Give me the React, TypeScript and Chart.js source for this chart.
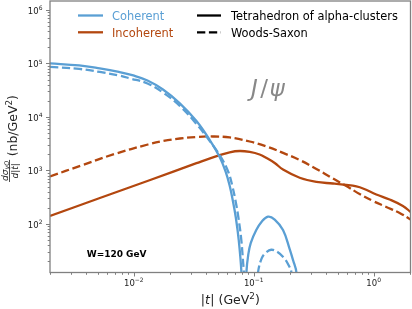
import React, { useEffect, useRef } from "react";
import { Chart, registerables } from "chart.js";
Chart.register(...registerables);

const FONT = '"DejaVu Sans", "Liberation Sans", sans-serif';
const BLUE = "#5a9fd4";
const ORANGE = "#b3470f";
const SPINE = "#808080";
const TEXT = "#222222";

// ---- data (|t| in GeV^2, dsigma/d|t| in nb/GeV^2) ----
const tCohTetra = [0.002, 0.0035, 0.0052, 0.0075, 0.0099, 0.013, 0.0175, 0.0242, 0.0333, 0.043, 0.052, 0.0584, 0.0631, 0.0668, 0.0708, 0.075, 0.079, 0.083, 0.0869, 0.09, 0.0944, 0.105, 0.116, 0.1315, 0.1496, 0.1755, 0.1995, 0.213, 0.227, 0.24];
const sCohTetra = [1.0e5, 9.18e4, 8.07e4, 6.94e4, 5.97e4, 4.81e4, 3.27e4, 1.8e4, 8.4e3, 3.7e3, 1.78e3, 938, 513, 281, 135, 50, 12.5, 1, 12.5, 26.4, 44, 77, 109, 137, 121, 77, 34, 21, 12.4, 1];

const tCohWS = [0.002, 0.0035, 0.0052, 0.0075, 0.0093, 0.013, 0.0175, 0.0242, 0.0333, 0.043, 0.0531, 0.0614, 0.0663, 0.0703, 0.0744, 0.0788, 0.083, 0.0946, 0.1086, 0.1167, 0.126, 0.14, 0.158, 0.178, 0.194, 0.206, 0.215];
const sCohWS = [8.6e4, 7.9e4, 6.94e4, 5.97e4, 5.25e4, 4.23e4, 2.87e4, 1.61e4, 7.4e3, 3.56e3, 1.79e3, 938, 513, 281, 135, 50, 12.5, 1, 12.5, 23, 29, 33, 30, 23.5, 17.5, 12.4, 1];

const tIncTetra = [0.002, 0.00521, 0.0137, 0.0333, 0.0505, 0.063, 0.0764, 0.0926, 0.112, 0.1277, 0.1496, 0.1755, 0.2417, 0.333, 0.458, 0.592, 0.718, 0.815, 1.053, 1.36, 1.755, 2.06];
const sIncTetra = [141, 306, 664, 1370, 1900, 2190, 2310, 2220, 1990, 1710, 1380, 1040, 731, 610, 571, 536, 502, 461, 356, 287, 217, 164];

const tIncWS = [0.002, 0.00364, 0.0069, 0.0131, 0.01754, 0.0242, 0.0333, 0.0455, 0.063, 0.0926, 0.1277, 0.1755, 0.2417, 0.333, 0.458, 0.592, 0.764, 0.987, 1.276, 1.647, 2.06];
const sIncWS = [773, 1240, 2030, 3060, 3560, 3960, 4230, 4320, 4140, 3480, 2810, 2130, 1570, 1070, 708, 513, 364, 269, 208, 161, 119];

const xMajorTicks = [0.01, 0.1, 1];
const xTickExps = ["\u22122", "\u22121", "0"];
const yMajorTicks = [1e2, 1e3, 1e4, 1e5, 1e6];
const yTickExps = ["2", "3", "4", "5", "6"];
const minorMultipliers = [2, 3, 4, 5, 6, 7, 8, 9];
const decades = [1e-3, 1e-2, 1e-1, 1, 1e1, 1e2, 1e3, 1e4, 1e5, 1e6];

const X_MIN = 0.002, X_MAX = 2.03, Y_MIN = 12.4, Y_MAX = 1.47e6;
const DASH = [8.3, 3.6];
const LW = 2.3;

type Run = { text: string; font: string; dy?: number; dx?: number };

function runsWidth(ctx: CanvasRenderingContext2D, runs: Run[]) {
  let w = 0;
  for (const r of runs) { ctx.font = r.font; w += ctx.measureText(r.text).width + (r.dx || 0); }
  return w;
}
function drawRuns(ctx: CanvasRenderingContext2D, runs: Run[], x: number, y: number) {
  let cx = x;
  for (const r of runs) {
    ctx.font = r.font;
    ctx.fillText(r.text, cx, y + (r.dy || 0));
    cx += ctx.measureText(r.text).width + (r.dx || 0);
  }
  return cx;
}

const overlay = {
  id: "overlay",
  afterDatasetsDraw(chart: any) {
    const { ctx, chartArea: a, scales } = chart;
    const xs = scales.x, ys = scales.y;
    ctx.save();
    ctx.textAlign = "left";
    ctx.textBaseline = "alphabetic";

    // ticks
    ctx.strokeStyle = SPINE;
    ctx.lineWidth = 1;
    ctx.beginPath();
    for (const d of decades) {
      for (const m of [1, ...minorMultipliers]) {
        const v = m * d;
        if (v >= X_MIN && v <= X_MAX) {
          const px = Math.round(xs.getPixelForValue(v)) + 0.5;
          const len = m === 1 ? 4 : 2.3;
          ctx.moveTo(px, a.bottom);
          ctx.lineTo(px, a.bottom + len);
        }
        if (v >= Y_MIN && v <= Y_MAX) {
          const py = Math.round(ys.getPixelForValue(v)) + 0.5;
          const len = m === 1 ? 4 : 2.3;
          ctx.moveTo(a.left, py);
          ctx.lineTo(a.left - len, py);
        }
      }
    }
    ctx.stroke();

    // spines
    ctx.lineWidth = 1.3;
    ctx.strokeRect(a.left, a.top, a.right - a.left, a.bottom - a.top);

    // tick labels
    ctx.fillStyle = TEXT;
    const baseF = `8.5px ${FONT}`;
    const expF = `6px ${FONT}`;
    xMajorTicks.forEach((v, i) => {
      const runs: Run[] = [{ text: "10", font: baseF }, { text: xTickExps[i], font: expF, dy: -3.8 }];
      const w = runsWidth(ctx, runs);
      const px = xs.getPixelForValue(v);
      drawRuns(ctx, runs, px - w / 2, a.bottom + 13);
    });
    yMajorTicks.forEach((v, i) => {
      const runs: Run[] = [{ text: "10", font: baseF }, { text: yTickExps[i], font: expF, dy: -3.8 }];
      const w = runsWidth(ctx, runs);
      const py = ys.getPixelForValue(v);
      drawRuns(ctx, runs, 42.5 - w, py + 4);
    });

    // x label
    const labF = `12.5px ${FONT}`;
    const labI = `italic 12.5px ${FONT}`;
    const supF = `8.8px ${FONT}`;
    const xl: Run[] = [
      { text: "|", font: labF }, { text: "t", font: labI, dx: 0.5 }, { text: "|", font: labF },
      { text: " (GeV", font: labF }, { text: "2", font: supF, dy: -5 }, { text: ")", font: labF },
    ];
    const xw = runsWidth(ctx, xl);
    drawRuns(ctx, xl, (a.left + a.right) / 2 - xw / 2, 304);

    // y label (rotated)
    const fracF = `italic 9px ${FONT}`;
    const fracU = `9px ${FONT}`;
    const subF = `italic 6.3px ${FONT}`;
    const num: Run[] = [{ text: "d\u03c3", font: fracF }, { text: "\u03b3O", font: subF, dy: 1.8 }];
    const den: Run[] = [{ text: "d", font: fracF }, { text: "|", font: fracU }, { text: "t", font: fracF }, { text: "|", font: fracU }];
    const par: Run[] = [{ text: "(nb/GeV", font: labF }, { text: "2", font: supF, dy: -5 }, { text: ")", font: labF }];
    const nw = runsWidth(ctx, num), dw = runsWidth(ctx, den), pw = runsWidth(ctx, par);
    const fw = Math.max(nw, dw) + 2;
    const gap = 3.5;
    const total = fw + gap + pw;
    const cy = 138.5;
    ctx.save();
    ctx.translate(0, cy);
    ctx.rotate(-Math.PI / 2);
    const u0 = -total / 2;
    drawRuns(ctx, num, u0 + (fw - nw) / 2, 7.5);
    drawRuns(ctx, den, u0 + (fw - dw) / 2, 17.5);
    ctx.fillRect(u0, 9, fw, 0.8);
    drawRuns(ctx, par, u0 + fw + gap, 17);
    ctx.restore();

    // annotations
    ctx.fillStyle = "#888888";
    drawRuns(ctx, [
      { text: "J", font: `italic 23px ${FONT}`, dx: 2.5 },
      { text: "/", font: `23px ${FONT}`, dx: 1.5 },
      { text: "\u03c8", font: `italic 23px ${FONT}` },
    ], 251, 95.5);
    ctx.fillStyle = "#000000";
    ctx.font = `bold 9px ${FONT}`;
    ctx.fillText("W=120 GeV", 86.7, 257.3);

    // legend
    const legF = `11.4px ${FONT}`;
    const rows = [15.5, 32.3];
    const items = [
      { x0: 78, x1: 103, tx: 112, y: rows[0], color: BLUE, dash: [] as number[], label: "Coherent", tc: BLUE },
      { x0: 78, x1: 103, tx: 112, y: rows[1], color: ORANGE, dash: [] as number[], label: "Incoherent", tc: ORANGE },
      { x0: 197, x1: 221, tx: 231, y: rows[0], color: "#000", dash: [] as number[], label: "Tetrahedron of alpha-clusters", tc: "#000" },
      { x0: 197, x1: 221, tx: 231, y: rows[1], color: "#000", dash: DASH, label: "Woods-Saxon", tc: "#000" },
    ];
    for (const it of items) {
      ctx.strokeStyle = it.color;
      ctx.lineWidth = LW;
      ctx.setLineDash(it.dash);
      ctx.beginPath();
      ctx.moveTo(it.x0, it.y);
      ctx.lineTo(it.x1, it.y);
      ctx.stroke();
      ctx.setLineDash([]);
      ctx.fillStyle = it.tc;
      ctx.font = legF;
      ctx.fillText(it.label, it.tx, it.y + 4.2);
    }
    ctx.restore();
  },
};

function pts(t: number[], s: number[]) {
  return t.map((x, i) => ({ x, y: s[i] }));
}

export default function App() {
  const ref = useRef<HTMLCanvasElement | null>(null);
  useEffect(() => {
    document.body.style.margin = "0";
    const canvas = ref.current!;
    const mk = (label: string, t: number[], s: number[], color: string, dashed: boolean) => ({
      label,
      data: pts(t, s),
      borderColor: color,
      backgroundColor: color,
      borderWidth: LW,
      borderDash: dashed ? DASH : [],
      borderCapStyle: "butt",
      borderJoinStyle: "round",
      pointRadius: 0,
      fill: false,
      tension: 0.4,
      capBezierPoints: false,
      clip: 0,
    });
    const chart = new Chart(canvas, {
      type: "line",
      data: {
        datasets: [
          mk("Coherent, tetrahedron", tCohTetra, sCohTetra, BLUE, false),
          mk("Coherent, Woods-Saxon", tCohWS, sCohWS, BLUE, true),
          mk("Incoherent, tetrahedron", tIncTetra, sIncTetra, ORANGE, false),
          mk("Incoherent, Woods-Saxon", tIncWS, sIncWS, ORANGE, true),
        ] as any,
      },
      options: {
        animation: false,
        responsive: false,
        maintainAspectRatio: false,
        devicePixelRatio: 1,
        elements: { line: { capBezierPoints: false } },
        layout: { padding: { top: 1, right: 1.5, left: 0, bottom: 0 } },
        plugins: { legend: { display: false }, tooltip: { enabled: false } },
        scales: {
          x: {
            type: "logarithmic",
            min: X_MIN,
            max: X_MAX,
            grid: { display: false },
            border: { display: false },
            ticks: { display: false },
            afterFit: (s: any) => { s.height = 36.5; },
          },
          y: {
            type: "logarithmic",
            min: Y_MIN,
            max: Y_MAX,
            grid: { display: false },
            border: { display: false },
            ticks: { display: false },
            afterFit: (s: any) => { s.width = 50; },
          },
        },
      } as any,
      plugins: [overlay],
    });
    return () => chart.destroy();
  }, []);
  return (
    <div style={{ position: "absolute", left: 0, top: 0, width: 412, height: 309, background: "#fff" }}>
      <canvas ref={ref} width={412} height={309} style={{ width: 412, height: 309, display: "block" }} />
    </div>
  );
}
